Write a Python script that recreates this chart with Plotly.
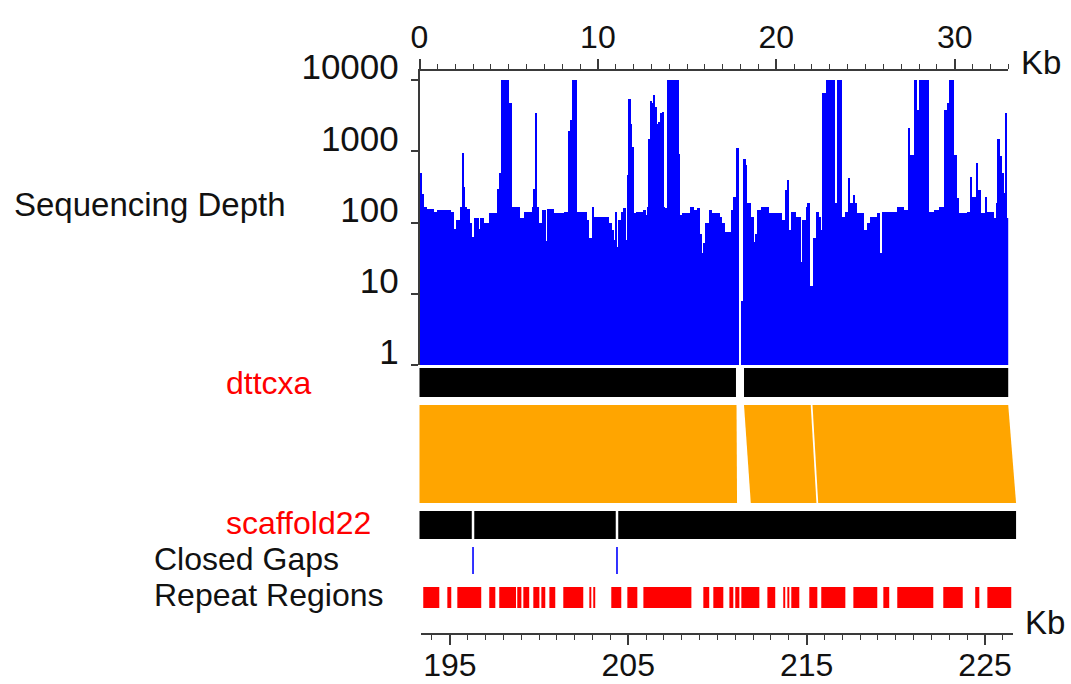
import plotly.graph_objects as go

# ---------------------------------------------------------------- data
# Sequencing depth along dttcxa as piecewise-constant segments: start (kb), depth
DEPTH_START_KB = [
    0.00, 0.12, 0.21, 0.40, 0.78, 0.96, 1.71, 1.90, 1.99, 2.27, 2.36, 2.46, 2.55, 2.64, 2.83, 2.92,
    3.02, 3.30, 3.39, 3.58, 3.86, 4.33, 4.42, 4.55,
    4.98, 5.17, 5.63, 5.82, 6.29, 6.38, 6.47, 6.57, 6.66, 6.85, 7.04, 7.13, 7.50, 8.06, 8.34, 8.44,
    8.53, 8.81, 9.37, 9.46, 9.65, 9.74,
    10.59, 10.77, 10.87, 10.96, 11.05, 11.15, 11.24, 11.43, 11.52, 11.61, 11.71, 11.80, 11.89, 11.99,
    12.08, 12.55, 12.64, 12.73, 12.83, 12.92, 13.01, 13.11, 13.20, 13.29, 13.39, 13.48, 13.57, 13.67,
    13.76, 13.85, 14.51, 14.60, 14.70,
    15.16, 15.35, 15.54, 15.72, 15.82, 15.91, 16.00, 16.19, 16.38, 16.84, 16.94, 17.12, 17.41, 17.59,
    17.69, 17.87, 18.00, 18.12, 18.25, 18.34, 18.53, 18.71, 18.81, 18.90, 19.09, 19.55,
    20.30, 20.49, 20.58, 20.71, 20.81, 21.05, 21.33, 21.42, 21.61, 21.74, 21.85, 22.04, 22.17, 22.36,
    22.45, 22.54, 22.73, 23.29, 23.38, 23.66, 23.85, 24.04, 24.13, 24.28, 24.41, 24.51, 24.88, 25.07,
    25.25, 25.63, 25.81, 25.91,
    26.75, 27.12, 27.40, 27.49, 27.68, 27.87, 27.96, 28.52, 28.80, 29.08, 29.36, 29.55, 29.64, 29.92,
    30.11, 30.20, 30.67, 30.86, 30.95, 31.14, 31.27, 31.42, 31.70, 31.79, 32.17, 32.26, 32.39, 32.50,
    32.63, 32.73, 32.82, 32.91,
]
DEPTH_VALUE = [
    490, 250, 165, 155, 140, 150, 140, 80, 110, 165, 950, 310, 165, 155, 100, 63,
    115, 80, 115, 100, 135, 300, 490, 10000,
    4700, 165, 115, 140, 165, 300, 3400, 165, 97, 150, 55, 155, 135, 140, 1900, 2750,
    10000, 142, 108, 60, 167, 121,
    97, 78, 57, 142, 46, 108, 142, 158, 57, 465, 5500, 2450, 1160, 135,
    142, 150, 127, 167, 1500, 5000, 4700, 6200, 4200, 2450, 2600, 3400, 3600, 167,
    158, 10000, 930, 127, 135,
    167, 150, 158, 70, 37, 51, 97, 150, 135, 121, 97, 74, 150, 230,
    1100, 1, 8, 780, 640, 186, 121, 54, 70, 150, 167, 135,
    108, 286, 395, 78, 142, 121, 28, 108, 167, 186, 13, 60, 142, 121,
    78, 6500, 10000, 186, 10000, 121, 142, 415, 186, 243, 186, 135, 78, 97,
    121, 135, 37, 142,
    167, 150, 2100, 885, 10000, 3800, 10000, 142, 150, 167, 3800, 4700, 10000, 885,
    218, 135, 142, 440, 230, 675, 286, 135, 230, 142, 114, 186, 1500, 850,
    490, 257, 3400, 114,
]
DTTCXA_LEN_KB = 33.0

# dttcxa contigs (kb on dttcxa)
DTTCXA_CONTIG_START = [0.0, 18.19]
DTTCXA_CONTIG_END = [17.74, 33.0]

# scaffold22 span and the closed gaps on it (kb on scaffold22)
SCAFFOLD_START = 193.3
SCAFFOLD_END = 226.74
CLOSED_GAP_KB = [196.30, 204.37]

# collinear blocks: dttcxa start/end and scaffold22 start/end
BLOCK_TOP_START = [0.0, 18.19, 22.03]
BLOCK_TOP_END = [17.77, 21.93, 33.0]
BLOCK_BOT_START = [193.3, 211.87, 215.65]
BLOCK_BOT_END = [211.10, 215.55, 226.74]

# repeat regions on scaffold22 (kb)
REPEAT_START = [193.51, 194.86, 195.42, 197.21, 197.77, 198.78, 199.12, 199.68, 200.13, 200.58,
                201.36, 202.82, 203.04, 204.05, 204.95, 205.85, 209.21, 209.77, 210.67, 211.00,
                211.34, 212.80, 213.69, 213.92, 214.14, 215.15, 215.82, 217.62, 219.30, 220.08,
                222.66, 224.45, 225.13]
REPEAT_END = [194.41, 195.08, 196.76, 197.55, 198.71, 199.01, 199.45, 200.02, 200.35, 200.91,
              202.48, 202.93, 203.15, 204.61, 205.51, 208.54, 209.54, 210.33, 210.89, 211.23,
              212.35, 213.24, 213.80, 214.03, 214.59, 215.60, 217.17, 218.96, 219.63, 222.10,
              223.75, 224.68, 226.47]

DEPTH_TICKS = [1, 10, 100, 1000, 10000]
TOP_TICKS = [0, 10, 20, 30]
BOTTOM_TICKS = [195, 205, 215, 225]

# ---------------------------------------------------------------- layout
W, H = 1071, 684
X0 = 419.5          # pixel column of dttcxa 0 kb / scaffold22 start
PX_PER_KB = 17.84
FONT = "Liberation Sans, Arial, sans-serif"
TXT = "#111111"
AX = "#3a3a3a"
BLUE = "#0000ff"
ORANGE = "#ffa500"
RED = "#ff0000"


def px(p):
    return p / W


def py(p):
    return 1 - p / H


# track rows (pixels from top)
DEPTH_TOP, DEPTH_BOTTOM, DEPTH_MAX_ROW = 71, 365, 80
DTT_ROW = (368, 397)
SYN_ROW = (405, 503)
SCAF_ROW = (511, 539)
GAP_ROW = (547, 574)
REP_ROW = (587, 608)
RULER_ROW = 633

decade_px = (DEPTH_BOTTOM - DEPTH_MAX_ROW) / 4
log_top = 4 + (DEPTH_MAX_ROW - DEPTH_TOP) / decade_px

widths = [b - a for a, b in zip(DEPTH_START_KB, DEPTH_START_KB[1:] + [DTTCXA_LEN_KB])]
centers = [a + w / 2 for a, w in zip(DEPTH_START_KB, widths)]

fig = go.Figure()
fig.add_trace(go.Bar(
    x=centers, y=DEPTH_VALUE, width=widths,
    marker=dict(color=BLUE, line=dict(width=0)),
    xaxis="x", yaxis="y", hoverinfo="skip",
))
# empty trace that carries the scaffold22 ruler subplot
fig.add_trace(go.Scatter(x=[], y=[], xaxis="x3", yaxis="y3", hoverinfo="skip"))

shapes = []
# dttcxa contigs
for s, e in zip(DTTCXA_CONTIG_START, DTTCXA_CONTIG_END):
    shapes.append(dict(type="rect", xref="x2", yref="paper", x0=s, x1=e,
                       y0=py(DTT_ROW[1]), y1=py(DTT_ROW[0]),
                       fillcolor="black", line=dict(width=0)))
# collinear blocks (bottom edge mapped into dttcxa coordinates)
for ts, te, bs, be in zip(BLOCK_TOP_START, BLOCK_TOP_END, BLOCK_BOT_START, BLOCK_BOT_END):
    b0 = bs - SCAFFOLD_START
    b1 = be - SCAFFOLD_START
    path = (f"M {ts},{py(SYN_ROW[0])} L {te},{py(SYN_ROW[0])} "
            f"L {b1},{py(SYN_ROW[1])} L {b0},{py(SYN_ROW[1])} Z")
    shapes.append(dict(type="path", xref="x2", yref="paper", path=path,
                       fillcolor=ORANGE, line=dict(width=0)))
# scaffold22 with its gaps
shapes.append(dict(type="rect", xref="x4", yref="paper", x0=SCAFFOLD_START, x1=SCAFFOLD_END,
                   y0=py(SCAF_ROW[1]), y1=py(SCAF_ROW[0]),
                   fillcolor="black", line=dict(width=0)))
for g in CLOSED_GAP_KB:
    shapes.append(dict(type="line", xref="x4", yref="paper", x0=g, x1=g,
                       y0=py(SCAF_ROW[1]), y1=py(SCAF_ROW[0]),
                       line=dict(color="white", width=2.5)))
    shapes.append(dict(type="line", xref="x4", yref="paper", x0=g, x1=g,
                       y0=py(GAP_ROW[1]), y1=py(GAP_ROW[0]),
                       line=dict(color=BLUE, width=1.6)))
# repeat regions
for s, e in zip(REPEAT_START, REPEAT_END):
    shapes.append(dict(type="rect", xref="x4", yref="paper", x0=s, x1=e,
                       y0=py(REP_ROW[1]), y1=py(REP_ROW[0]),
                       fillcolor=RED, line=dict(width=0)))

tick_common = dict(showgrid=False, zeroline=False, showline=True, linecolor=AX, linewidth=1.5,
                   ticks="outside", tickcolor=AX, tickwidth=1.5, automargin=False,
                   tickfont=dict(family=FONT, size=32, color=TXT))

fig.update_layout(
    template="none",
    width=W, height=H,
    margin=dict(l=0, r=0, t=0, b=0, pad=0, autoexpand=False),
    paper_bgcolor="white", plot_bgcolor="rgba(0,0,0,0)",
    showlegend=False, bargap=0,
    font=dict(family=FONT, color=TXT),
    xaxis=dict(domain=[px(X0), px(X0 + DTTCXA_LEN_KB * PX_PER_KB)], range=[0, DTTCXA_LEN_KB],
               side="top", anchor="y", tickmode="array", tickvals=TOP_TICKS,
               ticktext=[str(t) for t in TOP_TICKS], ticklen=10, ticklabelstandoff=-2,
               minor=dict(tickmode="linear", tick0=0, dtick=1, ticks="outside", ticklen=5,
                          tickcolor=AX, tickwidth=1.2),
               **tick_common),
    yaxis=dict(type="log", domain=[py(DEPTH_BOTTOM), py(DEPTH_TOP)], range=[0, log_top],
               anchor="x", tickmode="array", tickvals=DEPTH_TICKS,
               ticktext=[str(t) for t in DEPTH_TICKS], ticklen=7,
               ticklabelshift=-13, ticklabelstandoff=5,
               **{**tick_common, "tickfont": dict(family=FONT, size=35, color=TXT)}),
    xaxis2=dict(domain=[0, 1], range=[-X0 / PX_PER_KB, (W - X0) / PX_PER_KB],
                visible=False, anchor="y", automargin=False),
    xaxis4=dict(domain=[0, 1],
                range=[SCAFFOLD_START - X0 / PX_PER_KB, SCAFFOLD_START + (W - X0) / PX_PER_KB],
                visible=False, anchor="y", automargin=False),
    xaxis3=dict(domain=[px(421), px(1013)],
                range=[SCAFFOLD_START + (421 - X0) / PX_PER_KB,
                       SCAFFOLD_START + (1013 - X0) / PX_PER_KB],
                anchor="y3", side="bottom",
                tickmode="array", tickvals=BOTTOM_TICKS,
                ticktext=[str(t) for t in BOTTOM_TICKS], ticklen=10, ticklabelstandoff=-7,
                minor=dict(tickmode="linear", tick0=195, dtick=1, ticks="outside", ticklen=5,
                           tickcolor=AX, tickwidth=1.2),
                **tick_common),
    yaxis3=dict(domain=[py(RULER_ROW), py(RULER_ROW - 20)], range=[0, 1],
                anchor="x3", visible=False, automargin=False),
    shapes=shapes,
)

labels = [
    ("Sequencing Depth", 13, 204, TXT, 33),
    ("dttcxa", 225, 383, RED, 32),
    ("scaffold22", 225, 523, RED, 32),
    ("Closed Gaps", 153, 559, TXT, 32),
    ("Repeat Regions", 153, 595, TXT, 32),
    ("Kb", 1020, 62, TXT, 33),
    ("Kb", 1024, 622, TXT, 33),
]
for text, x, y, color, size in labels:
    fig.add_annotation(text=text, xref="paper", yref="paper", x=px(x), y=py(y),
                       xanchor="left", yanchor="middle", showarrow=False, borderpad=0,
                       font=dict(family=FONT, size=size, color=color))

fig.write_html("out.html")
